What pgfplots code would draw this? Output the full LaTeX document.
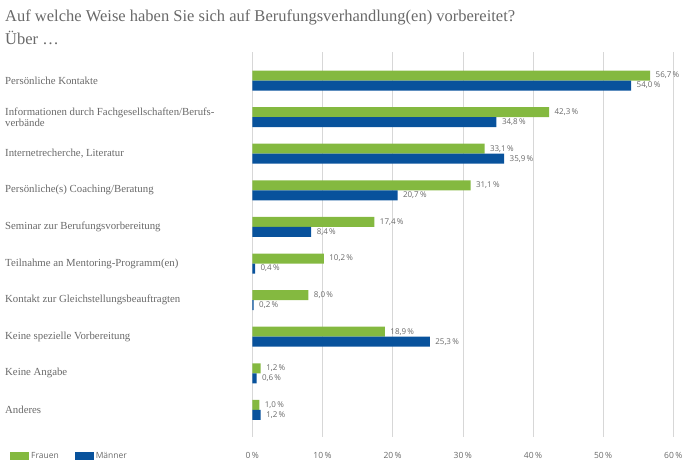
\documentclass[border=0pt]{standalone}
\usepackage{pgfplots}
\pgfplotsset{compat=1.18}
\usepackage{fontspec}
\setmainfont{Liberation Serif}
\newfontfamily\sansf{Open Sans}
\definecolor{fgreen}{RGB}{132,185,64}
\definecolor{mblue}{RGB}{8,82,156}
\definecolor{txt}{RGB}{105,105,105}
\definecolor{gridc}{RGB}{215,215,215}
\begin{document}
\begin{tikzpicture}[x=1pt,y=1pt]
\path[use as bounding box] (0,0) rectangle (685,463);
\node[anchor=base west, inner sep=0pt, font=\fontsize{16.5}{20}\selectfont, text=txt] at (5,441) {Auf welche Weise haben Sie sich auf Berufungsverhandlung(en) vorbereitet?};
\node[anchor=base west, inner sep=0pt, font=\fontsize{16.5}{20}\selectfont, text=txt] at (5,418) {Über \dots};
\begin{axis}[
  at={(252.3pt,26pt)}, anchor=south west,
  scale only axis, width=421pt, height=385pt,
  xbar, bar width=10pt,
  xmin=0, xmax=60, ymin=-0.78, ymax=9.74, y dir=reverse,
  axis line style={draw=none},
  major tick length=0pt,
  xmajorgrids, grid style={gridc, line width=0.6pt},
  xtick={0,10,...,60},
  xticklabel={\pgfmathprintnumber[assume math mode=true]{\tick}\,\%},
  xticklabel style={font=\sansf\fontsize{8.5}{10}\selectfont, text=txt, yshift=-12pt},
  ytick={0,...,9},
  yticklabels={Persönliche Kontakte,
    Informationen durch Fachgesellschaften/Berufs-\\verbände,
    {Internetrecherche, Literatur},
    Persönliche(s) Coaching/Beratung,
    Seminar zur Berufungsvorbereitung,
    Teilnahme an Mentoring-Programm(en),
    Kontakt zur Gleichstellungsbeauftragten,
    Keine spezielle Vorbereitung,
    Keine Angabe,
    Anderes},
  yticklabel style={anchor=west, inner sep=0pt, xshift=-247.3pt, align=left,
    font=\fontsize{10.8}{11.5}\selectfont, text=txt},
  point meta=x,
  nodes near coords={\pgfmathprintnumber[fixed,fixed zerofill,precision=1,use comma,assume math mode=true]{\pgfplotspointmeta}\,\%},
  nodes near coords style={font=\sansf\fontsize{8}{9}\selectfont, text=txt, anchor=west, xshift=2pt},
  legend style={at={(rel axis cs:-0.5827,-0.049)}, anchor=west, draw=none, fill=none,
    legend columns=2, font=\sansf\fontsize{8.5}{10}\selectfont, text=txt,
    /tikz/every even column/.append style={column sep=14pt}},
  legend image code/.code={\fill[#1] (0pt,-4pt) rectangle (19pt,4pt);},
]
\addplot[fill=fgreen, draw=none, bar shift=5pt] coordinates {
(56.7,0) (42.3,1) (33.1,2) (31.1,3) (17.4,4) (10.2,5) (8.0,6) (18.9,7) (1.2,8) (1.0,9)};
\addplot[fill=mblue, draw=none, bar shift=-5pt] coordinates {
(54.0,0) (34.8,1) (35.9,2) (20.7,3) (8.4,4) (0.4,5) (0.2,6) (25.3,7) (0.6,8) (1.2,9)};
\legend{Frauen, Männer}
\end{axis}
\end{tikzpicture}
\end{document}
